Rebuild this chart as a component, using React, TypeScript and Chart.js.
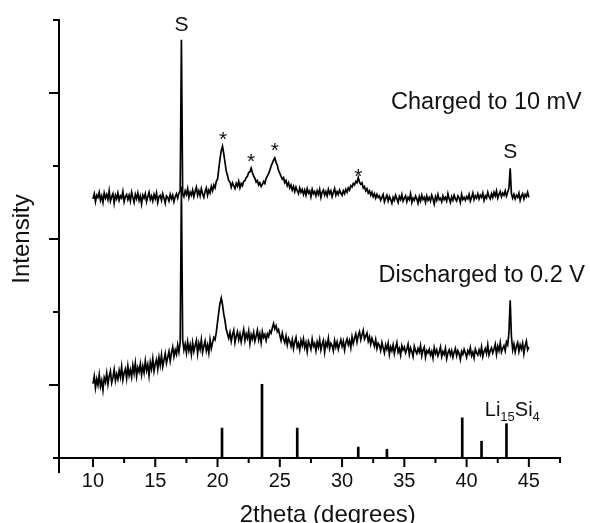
import React, { useEffect, useRef } from "react";
import { Chart, registerables } from "chart.js";

Chart.register(...registerables);

const FONT = '"Liberation Sans", Arial, Helvetica, sans-serif';

// scan grid (2theta, degrees)
const scanStart = 10;
const scanStep = 0.1;

// "Charged to 10 mV" pattern, 10.0 .. 45.0 deg
const chargedIntensity = [
  3.55, 3.62, 3.51, 3.60, 3.57, 3.64, 3.53, 3.59, 3.50, 3.63,
  3.56, 3.61, 3.54, 3.66, 3.52, 3.58, 3.62, 3.49, 3.60, 3.55,
  3.63, 3.53, 3.59, 3.56, 3.65, 3.51, 3.58, 3.61, 3.54, 3.60,
  3.52, 3.64, 3.57, 3.50, 3.61, 3.55, 3.63, 3.53, 3.59, 3.48,
  3.60, 3.56, 3.62, 3.51, 3.58, 3.64, 3.54, 3.59, 3.52, 3.61,
  3.55, 3.63, 3.50, 3.58, 3.60, 3.53, 3.62, 3.56, 3.49, 3.59,
  3.57, 3.52, 3.61, 3.55, 3.60, 3.51, 3.58, 3.62, 3.56, 3.63,
  3.66, 5.73, 3.62, 3.58, 3.66, 3.61, 3.69, 3.57, 3.64, 3.60,
  3.67, 3.58, 3.65, 3.71, 3.60, 3.66, 3.59, 3.69, 3.62, 3.57,
  3.65, 3.70, 3.60, 3.67, 3.63, 3.72, 3.66, 3.74, 3.70, 3.79,
  3.82, 3.96, 4.10, 4.21, 4.27, 4.17, 4.05, 3.93, 3.87, 3.80,
  3.78, 3.71, 3.77, 3.73, 3.69, 3.76, 3.72, 3.79, 3.70, 3.76,
  3.73, 3.79, 3.80, 3.84, 3.86, 3.91, 3.92, 3.97, 3.91, 3.86,
  3.83, 3.78, 3.80, 3.74, 3.77, 3.72, 3.75, 3.79, 3.76, 3.83,
  3.86, 3.90, 3.94, 4.00, 4.04, 4.08, 4.11, 4.05, 4.01, 3.94,
  3.90, 3.86, 3.82, 3.84, 3.77, 3.80, 3.73, 3.77, 3.70, 3.74,
  3.67, 3.72, 3.65, 3.71, 3.66, 3.62, 3.70, 3.64, 3.68, 3.61,
  3.67, 3.60, 3.69, 3.63, 3.66, 3.58, 3.68, 3.62, 3.65, 3.59,
  3.66, 3.61, 3.68, 3.57, 3.64, 3.67, 3.60, 3.65, 3.59, 3.68,
  3.62, 3.66, 3.58, 3.64, 3.69, 3.60, 3.65, 3.61, 3.67, 3.63,
  3.60, 3.66, 3.62, 3.68, 3.64, 3.70, 3.67, 3.73, 3.71, 3.76,
  3.74, 3.79, 3.77, 3.84, 3.78, 3.75, 3.77, 3.70, 3.72, 3.66,
  3.69, 3.63, 3.66, 3.60, 3.64, 3.58, 3.62, 3.56, 3.61, 3.57,
  3.59, 3.53, 3.57, 3.61, 3.51, 3.56, 3.60, 3.52, 3.58, 3.54,
  3.49, 3.57, 3.53, 3.60, 3.55, 3.50, 3.58, 3.54, 3.61, 3.52,
  3.56, 3.59, 3.51, 3.57, 3.54, 3.62, 3.50, 3.56, 3.53, 3.59,
  3.55, 3.49, 3.58, 3.52, 3.60, 3.54, 3.57, 3.50, 3.59, 3.53,
  3.57, 3.52, 3.60, 3.55, 3.48, 3.58, 3.53, 3.61, 3.54, 3.56,
  3.51, 3.59, 3.54, 3.57, 3.52, 3.62, 3.55, 3.50, 3.58, 3.53,
  3.60, 3.55, 3.52, 3.59, 3.56, 3.50, 3.61, 3.54, 3.57, 3.53,
  3.58, 3.55, 3.61, 3.52, 3.57, 3.63, 3.54, 3.59, 3.56, 3.62,
  3.55, 3.60, 3.57, 3.63, 3.53, 3.59, 3.56, 3.64, 3.58, 3.55,
  3.62, 3.57, 3.64, 3.59, 3.66, 3.56, 3.61, 3.65, 3.58, 3.63,
  3.60, 3.66, 3.59, 3.64, 3.70, 3.97, 3.62, 3.56, 3.61, 3.55,
  3.60, 3.57, 3.63, 3.53, 3.59, 3.62, 3.55, 3.61, 3.58, 3.64,
  3.57,
];

// "Discharged to 0.2 V" pattern, 10.0 .. 45.0 deg
const dischargedIntensity = [
  1.02, 1.12, 0.96, 1.08, 1.00, 1.14, 0.98, 1.06, 0.93, 1.10,
  1.04, 1.16, 1.01, 1.12, 1.19, 1.03, 1.10, 1.21, 1.06, 1.15,
  1.08, 1.20, 1.11, 1.25, 1.07, 1.17, 1.22, 1.09, 1.26, 1.13,
  1.21, 1.11, 1.27, 1.16, 1.30, 1.12, 1.24, 1.18, 1.29, 1.14,
  1.26, 1.17, 1.33, 1.20, 1.28, 1.13, 1.31, 1.22, 1.36, 1.19,
  1.29, 1.35, 1.22, 1.38, 1.27, 1.41, 1.25, 1.34, 1.43, 1.30,
  1.38, 1.46, 1.33, 1.44, 1.52, 1.39, 1.48, 1.42, 1.55, 1.45,
  1.58, 3.72, 1.62, 1.48, 1.56, 1.44, 1.59, 1.47, 1.55, 1.42,
  1.58, 1.46, 1.54, 1.61, 1.43, 1.57, 1.49, 1.62, 1.45, 1.53,
  1.60, 1.47, 1.55, 1.44, 1.62, 1.50, 1.58, 1.65, 1.62, 1.72,
  1.86, 2.00, 2.12, 2.19, 2.10, 1.97, 1.88, 1.76, 1.70, 1.64,
  1.72, 1.60, 1.69, 1.75, 1.58, 1.67, 1.73, 1.62, 1.70, 1.59,
  1.68, 1.76, 1.61, 1.70, 1.64, 1.74, 1.57, 1.69, 1.63, 1.72,
  1.60, 1.67, 1.75, 1.62, 1.70, 1.58, 1.73, 1.65, 1.69, 1.61,
  1.70, 1.66, 1.74, 1.71, 1.78, 1.84, 1.77, 1.81, 1.73, 1.76,
  1.68, 1.61, 1.71, 1.63, 1.58, 1.67, 1.55, 1.64, 1.60, 1.53,
  1.62, 1.50, 1.59, 1.65, 1.52, 1.57, 1.48, 1.61, 1.54, 1.63,
  1.51, 1.58, 1.46, 1.60, 1.55, 1.49, 1.63, 1.53, 1.57, 1.47,
  1.59, 1.52, 1.62, 1.48, 1.56, 1.61, 1.45, 1.58, 1.53, 1.64,
  1.50, 1.57, 1.54, 1.47, 1.61, 1.52, 1.59, 1.49, 1.56, 1.62,
  1.53, 1.60, 1.48, 1.58, 1.63, 1.55, 1.61, 1.51, 1.66, 1.57,
  1.64, 1.70, 1.59, 1.68, 1.73, 1.62, 1.69, 1.75, 1.63, 1.67,
  1.71, 1.60, 1.66, 1.56, 1.64, 1.59, 1.53, 1.62, 1.50, 1.57,
  1.54, 1.47, 1.58, 1.51, 1.44, 1.55, 1.49, 1.57, 1.42, 1.52,
  1.47, 1.55, 1.43, 1.51, 1.58, 1.45, 1.50, 1.41, 1.54, 1.48,
  1.52, 1.44, 1.49, 1.56, 1.42, 1.51, 1.46, 1.39, 1.53, 1.47,
  1.43, 1.50, 1.45, 1.54, 1.40, 1.48, 1.52, 1.38, 1.47, 1.44,
  1.49, 1.41, 1.46, 1.37, 1.51, 1.43, 1.48, 1.40, 1.45, 1.52,
  1.39, 1.46, 1.42, 1.50, 1.36, 1.44, 1.48, 1.41, 1.47, 1.38,
  1.45, 1.50, 1.40, 1.47, 1.43, 1.35, 1.46, 1.42, 1.49, 1.44,
  1.38, 1.47, 1.43, 1.51, 1.40, 1.45, 1.37, 1.49, 1.44, 1.41,
  1.48, 1.42, 1.52, 1.39, 1.46, 1.50, 1.43, 1.55, 1.41, 1.47,
  1.51, 1.44, 1.49, 1.56, 1.42, 1.53, 1.47, 1.58, 1.45, 1.50,
  1.54, 1.47, 1.59, 1.55, 1.72, 2.16, 1.66, 1.48, 1.56, 1.45,
  1.53, 1.58, 1.46, 1.55, 1.49, 1.57, 1.43, 1.54, 1.60, 1.48,
  1.52,
];

// Li15Si4 reference pattern (stick positions / relative heights)
const refPositions = [20.36, 23.57, 26.4, 31.3, 33.6, 39.65, 41.2, 43.2];
const refHeights = [0.41, 1.01, 0.41, 0.15, 0.12, 0.55, 0.23, 0.47];

// axis ticks
const xMin = 7.27;
const xMax = 47.5;
const yMin = 0;
const yMax = 6;
const xMajorTicks = [10, 15, 20, 25, 30, 35, 40, 45];
const xMinorTicks = [12.5, 17.5, 22.5, 27.5, 32.5, 37.5, 42.5, 47.5];
const yMajorTicks = [1, 3, 5];
const yMinorTicks = [0, 2, 4, 6];

// annotation marks
const peakMarkS = [17.1, 43.5];
const peakMarkSY = [5.85, 4.11];
const peakMarkStar = [20.45, 22.7, 24.6, 31.3];
const peakMarkStarY = [4.28, 3.97, 4.13, 3.77];

const toPoints = (vals: number[]) =>
  vals.map((v, i) => ({ x: Math.round((scanStart + i * scanStep) * 100) / 100, y: v }));

const decorPlugin = {
  id: "decor",
  afterDraw(chart: any) {
    const { ctx, chartArea: a } = chart;
    const xs = chart.scales.x;
    const ys = chart.scales.y;
    ctx.save();
    ctx.strokeStyle = "#000";
    ctx.fillStyle = "#111";
    ctx.lineWidth = 2;
    ctx.lineCap = "butt";
    ctx.beginPath();
    // y axis (extends below x axis)
    ctx.moveTo(a.left, a.top - 1);
    ctx.lineTo(a.left, a.bottom + 15);
    // x axis (extends left of y axis)
    ctx.moveTo(a.left - 5, a.bottom);
    ctx.lineTo(a.right + 1, a.bottom);
    // y ticks
    yMajorTicks.forEach((v) => {
      const p = ys.getPixelForValue(v);
      ctx.moveTo(a.left - 10, p);
      ctx.lineTo(a.left, p);
    });
    yMinorTicks.forEach((v) => {
      const p = ys.getPixelForValue(v);
      ctx.moveTo(a.left - 6, p);
      ctx.lineTo(a.left, p);
    });
    // x ticks
    xMajorTicks.forEach((v) => {
      const p = xs.getPixelForValue(v);
      ctx.moveTo(p, a.bottom);
      ctx.lineTo(p, a.bottom + 9);
    });
    xMinorTicks.forEach((v) => {
      const p = xs.getPixelForValue(v);
      ctx.moveTo(p, a.bottom);
      ctx.lineTo(p, a.bottom + 5);
    });
    ctx.stroke();

    // x tick labels
    ctx.font = `20px ${FONT}`;
    ctx.textAlign = "center";
    ctx.textBaseline = "alphabetic";
    xMajorTicks.forEach((v) => {
      ctx.fillText(String(v), xs.getPixelForValue(v), a.bottom + 29);
    });

    // axis titles
    ctx.font = `24px ${FONT}`;
    ctx.fillText("2theta (degrees)", xs.getPixelForValue(28.85), a.bottom + 64);
    ctx.save();
    ctx.translate(29, (a.top + a.bottom) / 2);
    ctx.rotate(-Math.PI / 2);
    ctx.fillText("Intensity", 0, 0);
    ctx.restore();

    // peak markers
    ctx.font = `21px ${FONT}`;
    peakMarkS.forEach((v, i) => {
      ctx.fillText("S", xs.getPixelForValue(v), ys.getPixelForValue(peakMarkSY[i]));
    });
    ctx.font = `21px ${FONT}`;
    peakMarkStar.forEach((v, i) => {
      ctx.fillText("*", xs.getPixelForValue(v), ys.getPixelForValue(peakMarkStarY[i]));
    });

    // series labels
    ctx.font = `23.5px ${FONT}`;
    ctx.textAlign = "right";
    ctx.fillText("Charged to 10 mV", xs.getPixelForValue(49.25), ys.getPixelForValue(4.78));
    ctx.fillText("Discharged to 0.2 V", xs.getPixelForValue(49.5), ys.getPixelForValue(2.41));

    // Li15Si4 label with subscripts
    ctx.textAlign = "left";
    let lx = xs.getPixelForValue(41.46);
    const ly = ys.getPixelForValue(0.575);
    const parts: [string, boolean][] = [
      ["Li", false],
      ["15", true],
      ["Si", false],
      ["4", true],
    ];
    parts.forEach(([t, sub]) => {
      ctx.font = sub ? `13px ${FONT}` : `20px ${FONT}`;
      ctx.fillText(t, lx, sub ? ly + 5 : ly);
      lx += ctx.measureText(t).width;
    });
    ctx.restore();
  },
};

export default function App() {
  const canvasRef = useRef<HTMLCanvasElement | null>(null);

  useEffect(() => {
    if (!canvasRef.current) return;
    const chart = new Chart(canvasRef.current, {
      type: "line",
      data: {
        datasets: [
          {
            label: "Charged to 10 mV",
            data: toPoints(chargedIntensity),
            borderColor: "#000",
            borderWidth: 1.7,
            pointRadius: 0,
            tension: 0,
          },
          {
            label: "Discharged to 0.2 V",
            data: toPoints(dischargedIntensity),
            borderColor: "#000",
            borderWidth: 1.7,
            pointRadius: 0,
            tension: 0,
          },
          {
            type: "bar",
            label: "Li15Si4",
            data: refPositions.map((p, i) => ({ x: p, y: refHeights[i] })),
            backgroundColor: "#000",
            borderWidth: 0,
            barThickness: 2,
            grouped: false,
          } as any,
        ],
      },
      options: {
        animation: false,
        responsive: false,
        devicePixelRatio: 1,
        layout: { padding: { left: 59, right: 30, top: 20, bottom: 65 } },
        plugins: { legend: { display: false }, tooltip: { enabled: false } },
        scales: {
          x: { type: "linear", min: xMin, max: xMax, display: false, offset: false },
          y: { type: "linear", min: yMin, max: yMax, display: false },
        },
      },
      plugins: [decorPlugin],
    });
    return () => chart.destroy();
  }, []);

  return (
    <div style={{ position: "absolute", left: 0, top: 0, width: 590, height: 523, background: "#fff" }}>
      <canvas ref={canvasRef} width={590} height={523} style={{ width: 590, height: 523 }} />
    </div>
  );
}
